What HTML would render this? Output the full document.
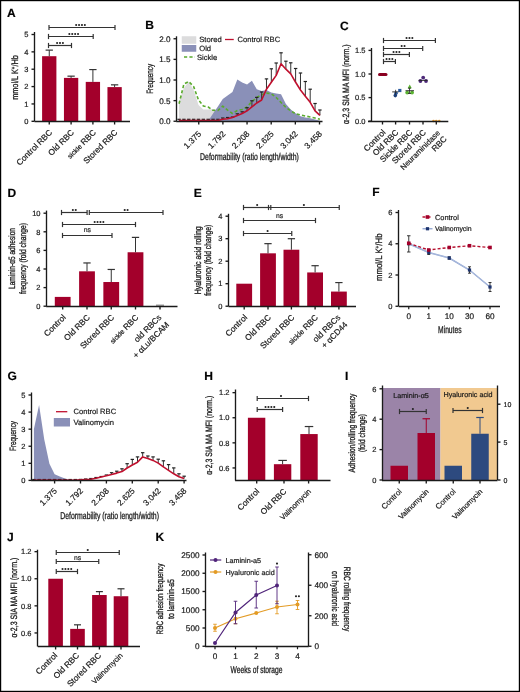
<!DOCTYPE html>
<html><head><meta charset="utf-8"><style>
html,body{margin:0;padding:0;background:#fff;}
svg{display:block;filter:grayscale(0);}
text{font-family:"Liberation Sans", sans-serif;text-rendering:geometricPrecision;stroke:#1a1a1a;stroke-width:0.2px;}
.cd{stroke:#1a1a1a;stroke-width:0.3px;}

</style></head><body>
<svg width="520" height="692" viewBox="0 0 520 692">
<rect x="0" y="0" width="520" height="692" fill="#fff"/>
<text transform="translate(7.00,16.50)" font-size="12" text-anchor="start" font-weight="bold" fill="#000" stroke="#000" stroke-width="0.9">A</text>
<line x1="34.50" y1="32.00" x2="34.50" y2="121.30" stroke="#1a1a1a" stroke-width="1.35" />
<line x1="31.50" y1="121.30" x2="34.50" y2="121.30" stroke="#1a1a1a" stroke-width="1.35" />
<text transform="translate(28.50,124.00)" font-size="7.5" text-anchor="end" font-weight="normal" fill="#1a1a1a" >0</text>
<line x1="31.50" y1="103.94" x2="34.50" y2="103.94" stroke="#1a1a1a" stroke-width="1.35" />
<text transform="translate(28.50,106.64)" font-size="7.5" text-anchor="end" font-weight="normal" fill="#1a1a1a" >1</text>
<line x1="31.50" y1="86.58" x2="34.50" y2="86.58" stroke="#1a1a1a" stroke-width="1.35" />
<text transform="translate(28.50,89.28)" font-size="7.5" text-anchor="end" font-weight="normal" fill="#1a1a1a" >2</text>
<line x1="31.50" y1="69.22" x2="34.50" y2="69.22" stroke="#1a1a1a" stroke-width="1.35" />
<text transform="translate(28.50,71.92)" font-size="7.5" text-anchor="end" font-weight="normal" fill="#1a1a1a" >3</text>
<line x1="31.50" y1="51.86" x2="34.50" y2="51.86" stroke="#1a1a1a" stroke-width="1.35" />
<text transform="translate(28.50,54.56)" font-size="7.5" text-anchor="end" font-weight="normal" fill="#1a1a1a" >4</text>
<line x1="31.50" y1="34.50" x2="34.50" y2="34.50" stroke="#1a1a1a" stroke-width="1.35" />
<text transform="translate(28.50,37.20)" font-size="7.5" text-anchor="end" font-weight="normal" fill="#1a1a1a" >5</text>
<rect x="42.10" y="56.20" width="14.30" height="65.10" fill="#a3002b"/>
<line x1="49.25" y1="56.20" x2="49.25" y2="50.12" stroke="#333" stroke-width="1.0" />
<line x1="45.60" y1="50.12" x2="52.90" y2="50.12" stroke="#333" stroke-width="1.2" />
<rect x="63.95" y="77.90" width="14.30" height="43.40" fill="#a3002b"/>
<line x1="71.10" y1="77.90" x2="71.10" y2="76.16" stroke="#333" stroke-width="1.0" />
<line x1="67.45" y1="76.16" x2="74.75" y2="76.16" stroke="#333" stroke-width="1.2" />
<rect x="85.75" y="81.89" width="14.30" height="39.41" fill="#a3002b"/>
<line x1="92.90" y1="81.89" x2="92.90" y2="69.57" stroke="#333" stroke-width="1.0" />
<line x1="89.25" y1="69.57" x2="96.55" y2="69.57" stroke="#333" stroke-width="1.2" />
<rect x="107.45" y="87.10" width="14.30" height="34.20" fill="#a3002b"/>
<line x1="114.60" y1="87.10" x2="114.60" y2="84.84" stroke="#333" stroke-width="1.0" />
<line x1="110.95" y1="84.84" x2="118.25" y2="84.84" stroke="#333" stroke-width="1.2" />
<line x1="34.50" y1="121.50" x2="130.00" y2="121.50" stroke="#1a1a1a" stroke-width="1.35" />
<line x1="49.25" y1="121.50" x2="49.25" y2="124.50" stroke="#1a1a1a" stroke-width="1.35" />
<line x1="71.10" y1="121.50" x2="71.10" y2="124.50" stroke="#1a1a1a" stroke-width="1.35" />
<line x1="92.90" y1="121.50" x2="92.90" y2="124.50" stroke="#1a1a1a" stroke-width="1.35" />
<line x1="114.60" y1="121.50" x2="114.60" y2="124.50" stroke="#1a1a1a" stroke-width="1.35" />
<line x1="48.50" y1="45.50" x2="71.50" y2="45.50" stroke="#333" stroke-width="1.2" />
<line x1="48.50" y1="42.90" x2="48.50" y2="48.10" stroke="#333" stroke-width="1.2" />
<line x1="71.50" y1="42.90" x2="71.50" y2="48.10" stroke="#333" stroke-width="1.2" />
<circle cx="57.10" cy="43.00" r="1.05" fill="#222"/>
<circle cx="60.00" cy="43.00" r="1.05" fill="#222"/>
<circle cx="62.90" cy="43.00" r="1.05" fill="#222"/>
<line x1="48.50" y1="36.50" x2="93.20" y2="36.50" stroke="#333" stroke-width="1.2" />
<line x1="48.50" y1="33.90" x2="48.50" y2="39.10" stroke="#333" stroke-width="1.2" />
<line x1="93.20" y1="33.90" x2="93.20" y2="39.10" stroke="#333" stroke-width="1.2" />
<circle cx="69.35" cy="34.00" r="1.05" fill="#222"/>
<circle cx="72.25" cy="34.00" r="1.05" fill="#222"/>
<circle cx="75.15" cy="34.00" r="1.05" fill="#222"/>
<circle cx="78.05" cy="34.00" r="1.05" fill="#222"/>
<line x1="49.00" y1="27.50" x2="115.00" y2="27.50" stroke="#333" stroke-width="1.2" />
<line x1="49.00" y1="24.90" x2="49.00" y2="30.10" stroke="#333" stroke-width="1.2" />
<line x1="115.00" y1="24.90" x2="115.00" y2="30.10" stroke="#333" stroke-width="1.2" />
<circle cx="76.15" cy="25.00" r="1.05" fill="#222"/>
<circle cx="79.05" cy="25.00" r="1.05" fill="#222"/>
<circle cx="81.95" cy="25.00" r="1.05" fill="#222"/>
<circle cx="84.85" cy="25.00" r="1.05" fill="#222"/>
<text transform="translate(18.10,77.50) rotate(-90) scale(0.7989682141664367,1)" font-size="9.2" text-anchor="middle" font-weight="normal" fill="#1a1a1a" class="cd" >mmol/L K<tspan font-size="5.5" dy="-3">+</tspan><tspan dy="3">/Hb</tspan></text>
<text transform="translate(52.75,133.00) rotate(-45)" font-size="8.3" text-anchor="end" font-weight="normal" fill="#1a1a1a" >Control RBC</text>
<text transform="translate(74.60,133.00) rotate(-45)" font-size="8.3" text-anchor="end" font-weight="normal" fill="#1a1a1a" >Old RBC</text>
<text transform="translate(96.40,133.00) rotate(-45)" font-size="8.3" text-anchor="end" font-weight="normal" fill="#1a1a1a" ><tspan font-size="6.8">sickle</tspan> RBC</text>
<text transform="translate(118.10,133.00) rotate(-45)" font-size="8.3" text-anchor="end" font-weight="normal" fill="#1a1a1a" >Stored RBC</text>
<text transform="translate(145.20,28.50)" font-size="12" text-anchor="start" font-weight="bold" fill="#000" stroke="#000" stroke-width="0.9">B</text>
<path d="M179.05,121.25 L179.05,101.50 L183.91,88.00 L188.76,81.50 L193.62,90.00 L198.48,105.00 L203.34,109.50 L208.19,109.50 L213.05,109.00 L217.91,111.00 L222.76,114.00 L227.62,117.00 L232.48,119.00 L237.33,121.00 L242.19,121.00 L247.05,121.00 L251.91,121.00 L256.76,121.00 L261.62,121.00 L266.48,121.00 L271.33,121.00 L276.19,121.00 L281.05,121.00 L285.90,121.00 L290.76,121.00 L295.62,121.00 L300.48,121.00 L305.33,121.00 L310.19,121.00 L315.05,121.00 L319.90,121.00 L319.90,121.25 Z" fill="#dcdcdd" stroke="none" stroke-width="1" />
<path d="M179.05,121.25 L179.05,121.25 L183.91,121.25 L188.76,121.25 L193.62,121.25 L198.48,121.25 L203.34,121.25 L208.19,121.00 L213.05,113.50 L217.91,106.50 L222.76,99.00 L227.62,95.50 L232.48,92.00 L237.33,79.50 L242.19,82.50 L247.05,84.50 L251.91,80.80 L256.76,89.20 L261.62,91.00 L266.48,90.00 L271.33,92.50 L276.19,93.50 L281.05,94.30 L285.90,104.00 L290.76,109.50 L295.62,113.20 L300.48,116.30 L305.33,117.50 L310.19,118.30 L315.05,119.50 L319.90,120.80 L319.90,121.25 Z" fill="#8a90b8" stroke="none" stroke-width="1" />
<path d="M179.05,103.80 L183.91,84.00 L188.76,81.50 L193.62,86.50 L198.48,100.00 L203.34,106.00 L208.19,107.00 L213.05,110.30 L217.91,110.50 L222.76,106.20 L227.62,110.20 L232.48,113.50 L237.33,110.50 L242.19,109.50 L247.05,107.00 L251.91,101.50 L256.76,97.50 L261.62,94.70 L266.48,93.10 L271.33,93.80 L276.19,97.50 L281.05,102.50 L285.90,107.50 L290.76,110.80 L295.62,113.80 L300.48,115.00 L305.33,116.00 L310.19,117.00 L315.05,118.00 L319.90,119.20" fill="none" stroke="#5aaa2e" stroke-width="1.6" stroke-dasharray="3.2,2.2" stroke-linejoin="round"/>
<line x1="179.05" y1="120.50" x2="179.05" y2="119.30" stroke="#333" stroke-width="1.0" />
<line x1="177.35" y1="119.30" x2="180.75" y2="119.30" stroke="#222" stroke-width="1.2" />
<line x1="183.91" y1="120.50" x2="183.91" y2="119.30" stroke="#333" stroke-width="1.0" />
<line x1="182.21" y1="119.30" x2="185.61" y2="119.30" stroke="#222" stroke-width="1.2" />
<line x1="188.76" y1="120.50" x2="188.76" y2="119.30" stroke="#333" stroke-width="1.0" />
<line x1="187.06" y1="119.30" x2="190.46" y2="119.30" stroke="#222" stroke-width="1.2" />
<line x1="193.62" y1="120.50" x2="193.62" y2="119.30" stroke="#333" stroke-width="1.0" />
<line x1="191.92" y1="119.30" x2="195.32" y2="119.30" stroke="#222" stroke-width="1.2" />
<line x1="198.48" y1="120.50" x2="198.48" y2="119.30" stroke="#333" stroke-width="1.0" />
<line x1="196.78" y1="119.30" x2="200.18" y2="119.30" stroke="#222" stroke-width="1.2" />
<line x1="203.34" y1="120.50" x2="203.34" y2="119.30" stroke="#333" stroke-width="1.0" />
<line x1="201.64" y1="119.30" x2="205.03" y2="119.30" stroke="#222" stroke-width="1.2" />
<line x1="208.19" y1="120.50" x2="208.19" y2="119.30" stroke="#333" stroke-width="1.0" />
<line x1="206.49" y1="119.30" x2="209.89" y2="119.30" stroke="#222" stroke-width="1.2" />
<line x1="213.05" y1="120.50" x2="213.05" y2="119.30" stroke="#333" stroke-width="1.0" />
<line x1="211.35" y1="119.30" x2="214.75" y2="119.30" stroke="#222" stroke-width="1.2" />
<line x1="217.91" y1="120.50" x2="217.91" y2="119.30" stroke="#333" stroke-width="1.0" />
<line x1="216.21" y1="119.30" x2="219.61" y2="119.30" stroke="#222" stroke-width="1.2" />
<line x1="222.76" y1="119.20" x2="222.76" y2="118.00" stroke="#333" stroke-width="1.0" />
<line x1="221.06" y1="118.00" x2="224.46" y2="118.00" stroke="#222" stroke-width="1.2" />
<line x1="227.62" y1="118.80" x2="227.62" y2="117.50" stroke="#333" stroke-width="1.0" />
<line x1="225.92" y1="117.50" x2="229.32" y2="117.50" stroke="#222" stroke-width="1.2" />
<line x1="232.48" y1="117.50" x2="232.48" y2="117.00" stroke="#333" stroke-width="1.0" />
<line x1="230.78" y1="117.00" x2="234.18" y2="117.00" stroke="#222" stroke-width="1.2" />
<line x1="237.33" y1="115.50" x2="237.33" y2="113.80" stroke="#333" stroke-width="1.0" />
<line x1="235.63" y1="113.80" x2="239.03" y2="113.80" stroke="#222" stroke-width="1.2" />
<line x1="242.19" y1="113.50" x2="242.19" y2="111.80" stroke="#333" stroke-width="1.0" />
<line x1="240.49" y1="111.80" x2="243.89" y2="111.80" stroke="#222" stroke-width="1.2" />
<line x1="247.05" y1="110.80" x2="247.05" y2="107.70" stroke="#333" stroke-width="1.0" />
<line x1="245.35" y1="107.70" x2="248.75" y2="107.70" stroke="#222" stroke-width="1.2" />
<line x1="251.91" y1="106.90" x2="251.91" y2="100.80" stroke="#333" stroke-width="1.0" />
<line x1="250.21" y1="100.80" x2="253.61" y2="100.80" stroke="#222" stroke-width="1.2" />
<line x1="256.76" y1="103.00" x2="256.76" y2="97.40" stroke="#333" stroke-width="1.0" />
<line x1="255.06" y1="97.40" x2="258.46" y2="97.40" stroke="#222" stroke-width="1.2" />
<line x1="261.62" y1="100.00" x2="261.62" y2="92.00" stroke="#333" stroke-width="1.0" />
<line x1="259.92" y1="92.00" x2="263.32" y2="92.00" stroke="#222" stroke-width="1.2" />
<line x1="266.48" y1="89.20" x2="266.48" y2="78.90" stroke="#333" stroke-width="1.0" />
<line x1="264.78" y1="78.90" x2="268.18" y2="78.90" stroke="#222" stroke-width="1.2" />
<line x1="271.33" y1="82.30" x2="271.33" y2="68.80" stroke="#333" stroke-width="1.0" />
<line x1="269.63" y1="68.80" x2="273.03" y2="68.80" stroke="#222" stroke-width="1.2" />
<line x1="276.19" y1="75.40" x2="276.19" y2="63.00" stroke="#333" stroke-width="1.0" />
<line x1="274.49" y1="63.00" x2="277.89" y2="63.00" stroke="#222" stroke-width="1.2" />
<line x1="281.05" y1="63.80" x2="281.05" y2="52.80" stroke="#333" stroke-width="1.0" />
<line x1="279.35" y1="52.80" x2="282.75" y2="52.80" stroke="#222" stroke-width="1.2" />
<line x1="285.90" y1="69.20" x2="285.90" y2="61.20" stroke="#333" stroke-width="1.0" />
<line x1="284.20" y1="61.20" x2="287.60" y2="61.20" stroke="#222" stroke-width="1.2" />
<line x1="290.76" y1="73.80" x2="290.76" y2="62.80" stroke="#333" stroke-width="1.0" />
<line x1="289.06" y1="62.80" x2="292.46" y2="62.80" stroke="#222" stroke-width="1.2" />
<line x1="295.62" y1="82.30" x2="295.62" y2="68.50" stroke="#333" stroke-width="1.0" />
<line x1="293.92" y1="68.50" x2="297.32" y2="68.50" stroke="#222" stroke-width="1.2" />
<line x1="300.48" y1="90.00" x2="300.48" y2="73.00" stroke="#333" stroke-width="1.0" />
<line x1="298.78" y1="73.00" x2="302.18" y2="73.00" stroke="#222" stroke-width="1.2" />
<line x1="305.33" y1="96.20" x2="305.33" y2="81.50" stroke="#333" stroke-width="1.0" />
<line x1="303.63" y1="81.50" x2="307.03" y2="81.50" stroke="#222" stroke-width="1.2" />
<line x1="310.19" y1="102.30" x2="310.19" y2="89.20" stroke="#333" stroke-width="1.0" />
<line x1="308.49" y1="89.20" x2="311.89" y2="89.20" stroke="#222" stroke-width="1.2" />
<line x1="315.05" y1="110.80" x2="315.05" y2="103.50" stroke="#333" stroke-width="1.0" />
<line x1="313.35" y1="103.50" x2="316.75" y2="103.50" stroke="#222" stroke-width="1.2" />
<line x1="319.90" y1="115.40" x2="319.90" y2="110.00" stroke="#333" stroke-width="1.0" />
<line x1="318.20" y1="110.00" x2="321.60" y2="110.00" stroke="#222" stroke-width="1.2" />
<path d="M179.05,120.50 L183.91,120.50 L188.76,120.50 L193.62,120.50 L198.48,120.50 L203.34,120.50 L208.19,120.50 L213.05,120.50 L217.91,120.50 L222.76,119.20 L227.62,118.80 L232.48,117.50 L237.33,115.50 L242.19,113.50 L247.05,110.80 L251.91,106.90 L256.76,103.00 L261.62,100.00 L266.48,89.20 L271.33,82.30 L276.19,75.40 L281.05,63.80 L285.90,69.20 L290.76,73.80 L295.62,82.30 L300.48,90.00 L305.33,96.20 L310.19,102.30 L315.05,110.80 L319.90,115.40" fill="none" stroke="#c0102e" stroke-width="1.6" stroke-linejoin="round"/>
<line x1="176.50" y1="36.30" x2="176.50" y2="121.25" stroke="#1a1a1a" stroke-width="1.35" />
<line x1="173.50" y1="121.25" x2="176.50" y2="121.25" stroke="#1a1a1a" stroke-width="1.35" />
<text transform="translate(170.50,124.17)" font-size="8.1" text-anchor="end" font-weight="normal" fill="#1a1a1a" >0.0</text>
<line x1="173.50" y1="100.62" x2="176.50" y2="100.62" stroke="#1a1a1a" stroke-width="1.35" />
<text transform="translate(170.50,103.54)" font-size="8.1" text-anchor="end" font-weight="normal" fill="#1a1a1a" >0.5</text>
<line x1="173.50" y1="80.00" x2="176.50" y2="80.00" stroke="#1a1a1a" stroke-width="1.35" />
<text transform="translate(170.50,82.92)" font-size="8.1" text-anchor="end" font-weight="normal" fill="#1a1a1a" >1.0</text>
<line x1="173.50" y1="59.38" x2="176.50" y2="59.38" stroke="#1a1a1a" stroke-width="1.35" />
<text transform="translate(170.50,62.29)" font-size="8.1" text-anchor="end" font-weight="normal" fill="#1a1a1a" >1.5</text>
<line x1="173.50" y1="38.75" x2="176.50" y2="38.75" stroke="#1a1a1a" stroke-width="1.35" />
<text transform="translate(170.50,41.67)" font-size="8.1" text-anchor="end" font-weight="normal" fill="#1a1a1a" >2.0</text>
<line x1="176.25" y1="121.50" x2="322.50" y2="121.50" stroke="#1a1a1a" stroke-width="1.35" />
<line x1="198.75" y1="121.50" x2="198.75" y2="124.50" stroke="#1a1a1a" stroke-width="1.35" />
<line x1="222.90" y1="121.50" x2="222.90" y2="124.50" stroke="#1a1a1a" stroke-width="1.35" />
<line x1="247.05" y1="121.50" x2="247.05" y2="124.50" stroke="#1a1a1a" stroke-width="1.35" />
<line x1="271.20" y1="121.50" x2="271.20" y2="124.50" stroke="#1a1a1a" stroke-width="1.35" />
<line x1="295.35" y1="121.50" x2="295.35" y2="124.50" stroke="#1a1a1a" stroke-width="1.35" />
<line x1="319.50" y1="121.50" x2="319.50" y2="124.50" stroke="#1a1a1a" stroke-width="1.35" />
<text transform="translate(201.75,134.50) rotate(-45)" font-size="8.3" text-anchor="end" font-weight="normal" fill="#1a1a1a" >1.375</text>
<text transform="translate(225.90,134.50) rotate(-45)" font-size="8.3" text-anchor="end" font-weight="normal" fill="#1a1a1a" >1.792</text>
<text transform="translate(250.05,134.50) rotate(-45)" font-size="8.3" text-anchor="end" font-weight="normal" fill="#1a1a1a" >2.208</text>
<text transform="translate(274.20,134.50) rotate(-45)" font-size="8.3" text-anchor="end" font-weight="normal" fill="#1a1a1a" >2.625</text>
<text transform="translate(298.35,134.50) rotate(-45)" font-size="8.3" text-anchor="end" font-weight="normal" fill="#1a1a1a" >3.042</text>
<text transform="translate(322.50,134.50) rotate(-45)" font-size="8.3" text-anchor="end" font-weight="normal" fill="#1a1a1a" >3.458</text>
<text transform="translate(249.50,160.00) scale(0.6974488628314244,1)" font-size="9.9" text-anchor="middle" font-weight="normal" fill="#1a1a1a" class="cd" >Deformability (ratio length/width)</text>
<text transform="translate(153.00,78.80) rotate(-90) scale(0.6902452527663736,1)" font-size="9.2" text-anchor="middle" font-weight="normal" fill="#1a1a1a" class="cd" >Frequency</text>
<rect x="181.75" y="36.25" width="14.50" height="7.50" fill="#dcdcdd"/>
<rect x="181.75" y="45.00" width="14.50" height="6.75" fill="#8a90b8"/>
<line x1="184.00" y1="57.00" x2="195.00" y2="57.00" stroke="#5aaa2e" stroke-width="1.6" stroke-dasharray="3.2,2.2"/>
<line x1="225.00" y1="39.50" x2="233.75" y2="39.50" stroke="#c0102e" stroke-width="1.3" />
<text transform="translate(199.25,42.20)" font-size="7.6" text-anchor="start" font-weight="normal" fill="#1a1a1a" >Stored</text>
<text transform="translate(199.25,50.80)" font-size="7.6" text-anchor="start" font-weight="normal" fill="#1a1a1a" >Old</text>
<text transform="translate(197.00,59.80)" font-size="7.6" text-anchor="start" font-weight="normal" fill="#1a1a1a" >Sickle</text>
<text transform="translate(237.50,42.20)" font-size="7.6" text-anchor="start" font-weight="normal" fill="#1a1a1a" >Control RBC</text>
<text transform="translate(340.00,29.50)" font-size="12" text-anchor="start" font-weight="bold" fill="#000" stroke="#000" stroke-width="0.9">C</text>
<line x1="371.50" y1="48.00" x2="371.50" y2="121.20" stroke="#1a1a1a" stroke-width="1.35" />
<line x1="368.50" y1="121.20" x2="371.50" y2="121.20" stroke="#1a1a1a" stroke-width="1.35" />
<text transform="translate(365.50,123.90)" font-size="7.5" text-anchor="end" font-weight="normal" fill="#1a1a1a" >0.0</text>
<line x1="368.50" y1="97.60" x2="371.50" y2="97.60" stroke="#1a1a1a" stroke-width="1.35" />
<text transform="translate(365.50,100.30)" font-size="7.5" text-anchor="end" font-weight="normal" fill="#1a1a1a" >0.5</text>
<line x1="368.50" y1="74.00" x2="371.50" y2="74.00" stroke="#1a1a1a" stroke-width="1.35" />
<text transform="translate(365.50,76.70)" font-size="7.5" text-anchor="end" font-weight="normal" fill="#1a1a1a" >1.0</text>
<line x1="368.50" y1="50.40" x2="371.50" y2="50.40" stroke="#1a1a1a" stroke-width="1.35" />
<text transform="translate(365.50,53.10)" font-size="7.5" text-anchor="end" font-weight="normal" fill="#1a1a1a" >1.5</text>
<path d="M379.5,74.5 L386,74.5" fill="none" stroke="#8a0020" stroke-width="3" stroke-linecap="round"/>
<rect x="398.20" y="88.90" width="3.20" height="3.20" fill="#2b5ba0"/>
<circle cx="396" cy="93.3" r="1.8" fill="#2b5ba0"/>
<circle cx="395.3" cy="95.6" r="1.8" fill="#1c3f7a"/>
<line x1="392.20" y1="91.90" x2="398.50" y2="91.90" stroke="#222" stroke-width="0.9" />
<line x1="395.60" y1="89.80" x2="395.60" y2="94.50" stroke="#222" stroke-width="0.8" />
<path d="M409.7,84.6 L411.8,88.2 L407.6,88.2 Z" fill="#5cb532" stroke="none" stroke-width="1" />
<circle cx="407.2" cy="92.6" r="1.9" fill="#5cb532"/>
<circle cx="412.1" cy="92.6" r="1.9" fill="#5cb532"/>
<line x1="405.50" y1="90.70" x2="414.00" y2="90.70" stroke="#222" stroke-width="0.9" />
<line x1="409.50" y1="88.20" x2="409.50" y2="93.50" stroke="#222" stroke-width="0.8" />
<line x1="408.00" y1="88.20" x2="411.00" y2="88.20" stroke="#222" stroke-width="0.8" />
<line x1="408.00" y1="93.50" x2="411.00" y2="93.50" stroke="#222" stroke-width="0.8" />
<circle cx="423.2" cy="77.6" r="1.9" fill="#4e2a7a"/>
<circle cx="420.4" cy="81" r="1.9" fill="#4e2a7a"/>
<circle cx="426" cy="81" r="1.9" fill="#4e2a7a"/>
<line x1="418.50" y1="80.40" x2="427.50" y2="80.40" stroke="#222" stroke-width="0.9" />
<circle cx="433.5" cy="121" r="1.3" fill="#f0a030"/>
<circle cx="436.3" cy="121" r="1.3" fill="#f0a030"/>
<circle cx="439.3" cy="121" r="1.3" fill="#f0a030"/>
<line x1="368.00" y1="121.50" x2="448.30" y2="121.50" stroke="#1a1a1a" stroke-width="1.35" />
<line x1="382.50" y1="121.50" x2="382.50" y2="124.50" stroke="#1a1a1a" stroke-width="1.35" />
<line x1="395.60" y1="121.50" x2="395.60" y2="124.50" stroke="#1a1a1a" stroke-width="1.35" />
<line x1="409.50" y1="121.50" x2="409.50" y2="124.50" stroke="#1a1a1a" stroke-width="1.35" />
<line x1="423.00" y1="121.50" x2="423.00" y2="124.50" stroke="#1a1a1a" stroke-width="1.35" />
<line x1="436.30" y1="121.50" x2="436.30" y2="124.50" stroke="#1a1a1a" stroke-width="1.35" />
<line x1="383.50" y1="61.50" x2="395.40" y2="61.50" stroke="#333" stroke-width="1.2" />
<line x1="383.50" y1="58.90" x2="383.50" y2="64.10" stroke="#333" stroke-width="1.2" />
<line x1="395.40" y1="58.90" x2="395.40" y2="64.10" stroke="#333" stroke-width="1.2" />
<circle cx="386.55" cy="59.00" r="1.05" fill="#222"/>
<circle cx="389.45" cy="59.00" r="1.05" fill="#222"/>
<circle cx="392.35" cy="59.00" r="1.05" fill="#222"/>
<line x1="383.50" y1="54.50" x2="409.40" y2="54.50" stroke="#333" stroke-width="1.2" />
<line x1="383.50" y1="51.90" x2="383.50" y2="57.10" stroke="#333" stroke-width="1.2" />
<line x1="409.40" y1="51.90" x2="409.40" y2="57.10" stroke="#333" stroke-width="1.2" />
<circle cx="393.55" cy="52.00" r="1.05" fill="#222"/>
<circle cx="396.45" cy="52.00" r="1.05" fill="#222"/>
<circle cx="399.35" cy="52.00" r="1.05" fill="#222"/>
<line x1="383.50" y1="48.50" x2="422.70" y2="48.50" stroke="#333" stroke-width="1.2" />
<line x1="383.50" y1="45.90" x2="383.50" y2="51.10" stroke="#333" stroke-width="1.2" />
<line x1="422.70" y1="45.90" x2="422.70" y2="51.10" stroke="#333" stroke-width="1.2" />
<circle cx="401.65" cy="46.00" r="1.05" fill="#222"/>
<circle cx="404.55" cy="46.00" r="1.05" fill="#222"/>
<line x1="383.50" y1="40.50" x2="435.40" y2="40.50" stroke="#333" stroke-width="1.2" />
<line x1="383.50" y1="37.90" x2="383.50" y2="43.10" stroke="#333" stroke-width="1.2" />
<line x1="435.40" y1="37.90" x2="435.40" y2="43.10" stroke="#333" stroke-width="1.2" />
<circle cx="406.55" cy="38.00" r="1.05" fill="#222"/>
<circle cx="409.45" cy="38.00" r="1.05" fill="#222"/>
<circle cx="412.35" cy="38.00" r="1.05" fill="#222"/>
<text transform="translate(349.00,84.20) rotate(-90) scale(0.7608561066777686,1)" font-size="9.2" text-anchor="middle" font-weight="normal" fill="#1a1a1a" class="cd" >α-2,3 SIA MA MFI (norm.)</text>
<text transform="translate(386.00,133.00) rotate(-45)" font-size="8.3" text-anchor="end" font-weight="normal" fill="#1a1a1a" >Control</text>
<text transform="translate(399.10,133.00) rotate(-45)" font-size="8.3" text-anchor="end" font-weight="normal" fill="#1a1a1a" >Old RBC</text>
<text transform="translate(413.00,133.00) rotate(-45)" font-size="8.3" text-anchor="end" font-weight="normal" fill="#1a1a1a" >Sickle RBC</text>
<text transform="translate(426.50,133.00) rotate(-45)" font-size="8.3" text-anchor="end" font-weight="normal" fill="#1a1a1a" >Stored RBC</text>
<text transform="translate(440.60,133.50) rotate(-45)" font-size="7.8" text-anchor="end" font-weight="normal" fill="#1a1a1a" >Neuraminidase</text>
<text transform="translate(447.30,139.50) rotate(-45)" font-size="8.3" text-anchor="end" font-weight="normal" fill="#1a1a1a" >RBC</text>
<text transform="translate(7.50,196.80)" font-size="12" text-anchor="start" font-weight="bold" fill="#000" stroke="#000" stroke-width="0.9">D</text>
<line x1="46.50" y1="210.60" x2="46.50" y2="306.20" stroke="#1a1a1a" stroke-width="1.35" />
<line x1="43.50" y1="306.20" x2="46.50" y2="306.20" stroke="#1a1a1a" stroke-width="1.35" />
<text transform="translate(40.50,308.90)" font-size="7.5" text-anchor="end" font-weight="normal" fill="#1a1a1a" >0</text>
<line x1="43.50" y1="287.60" x2="46.50" y2="287.60" stroke="#1a1a1a" stroke-width="1.35" />
<text transform="translate(40.50,290.30)" font-size="7.5" text-anchor="end" font-weight="normal" fill="#1a1a1a" >2</text>
<line x1="43.50" y1="269.00" x2="46.50" y2="269.00" stroke="#1a1a1a" stroke-width="1.35" />
<text transform="translate(40.50,271.70)" font-size="7.5" text-anchor="end" font-weight="normal" fill="#1a1a1a" >4</text>
<line x1="43.50" y1="250.40" x2="46.50" y2="250.40" stroke="#1a1a1a" stroke-width="1.35" />
<text transform="translate(40.50,253.10)" font-size="7.5" text-anchor="end" font-weight="normal" fill="#1a1a1a" >6</text>
<line x1="43.50" y1="231.80" x2="46.50" y2="231.80" stroke="#1a1a1a" stroke-width="1.35" />
<text transform="translate(40.50,234.50)" font-size="7.5" text-anchor="end" font-weight="normal" fill="#1a1a1a" >8</text>
<line x1="43.50" y1="213.20" x2="46.50" y2="213.20" stroke="#1a1a1a" stroke-width="1.35" />
<text transform="translate(40.50,215.90)" font-size="7.5" text-anchor="end" font-weight="normal" fill="#1a1a1a" >10</text>
<rect x="54.80" y="296.90" width="15.80" height="9.30" fill="#a3002b"/>
<rect x="79.10" y="271.32" width="15.80" height="34.88" fill="#a3002b"/>
<line x1="87.00" y1="271.32" x2="87.00" y2="262.95" stroke="#333" stroke-width="1.0" />
<line x1="83.35" y1="262.95" x2="90.65" y2="262.95" stroke="#333" stroke-width="1.2" />
<rect x="103.35" y="282.02" width="15.80" height="24.18" fill="#a3002b"/>
<line x1="111.25" y1="282.02" x2="111.25" y2="269.46" stroke="#333" stroke-width="1.0" />
<line x1="107.60" y1="269.46" x2="114.90" y2="269.46" stroke="#333" stroke-width="1.2" />
<rect x="127.60" y="252.26" width="15.80" height="53.94" fill="#a3002b"/>
<line x1="135.50" y1="252.26" x2="135.50" y2="237.38" stroke="#333" stroke-width="1.0" />
<line x1="131.85" y1="237.38" x2="139.15" y2="237.38" stroke="#333" stroke-width="1.2" />
<line x1="46.20" y1="306.50" x2="177.50" y2="306.50" stroke="#1a1a1a" stroke-width="1.35" />
<line x1="62.70" y1="306.50" x2="62.70" y2="309.50" stroke="#1a1a1a" stroke-width="1.35" />
<line x1="87.00" y1="306.50" x2="87.00" y2="309.50" stroke="#1a1a1a" stroke-width="1.35" />
<line x1="111.25" y1="306.50" x2="111.25" y2="309.50" stroke="#1a1a1a" stroke-width="1.35" />
<line x1="135.50" y1="306.50" x2="135.50" y2="309.50" stroke="#1a1a1a" stroke-width="1.35" />
<line x1="160.00" y1="306.50" x2="160.00" y2="309.50" stroke="#1a1a1a" stroke-width="1.35" />
<line x1="156.00" y1="305.20" x2="164.00" y2="305.20" stroke="#555" stroke-width="0.9" />
<line x1="61.50" y1="212.50" x2="87.10" y2="212.50" stroke="#333" stroke-width="1.2" />
<line x1="61.50" y1="209.90" x2="61.50" y2="215.10" stroke="#333" stroke-width="1.2" />
<line x1="87.10" y1="209.90" x2="87.10" y2="215.10" stroke="#333" stroke-width="1.2" />
<circle cx="72.85" cy="210.00" r="1.05" fill="#222"/>
<circle cx="75.75" cy="210.00" r="1.05" fill="#222"/>
<line x1="89.30" y1="212.50" x2="163.00" y2="212.50" stroke="#333" stroke-width="1.2" />
<line x1="89.30" y1="209.90" x2="89.30" y2="215.10" stroke="#333" stroke-width="1.2" />
<line x1="163.00" y1="209.90" x2="163.00" y2="215.10" stroke="#333" stroke-width="1.2" />
<circle cx="124.70" cy="210.00" r="1.05" fill="#222"/>
<circle cx="127.60" cy="210.00" r="1.05" fill="#222"/>
<line x1="62.50" y1="224.50" x2="135.50" y2="224.50" stroke="#333" stroke-width="1.2" />
<line x1="62.50" y1="221.90" x2="62.50" y2="227.10" stroke="#333" stroke-width="1.2" />
<line x1="135.50" y1="221.90" x2="135.50" y2="227.10" stroke="#333" stroke-width="1.2" />
<circle cx="94.65" cy="222.00" r="1.05" fill="#222"/>
<circle cx="97.55" cy="222.00" r="1.05" fill="#222"/>
<circle cx="100.45" cy="222.00" r="1.05" fill="#222"/>
<circle cx="103.35" cy="222.00" r="1.05" fill="#222"/>
<line x1="62.50" y1="235.50" x2="112.00" y2="235.50" stroke="#333" stroke-width="1.2" />
<line x1="62.50" y1="232.90" x2="62.50" y2="238.10" stroke="#333" stroke-width="1.2" />
<line x1="112.00" y1="232.90" x2="112.00" y2="238.10" stroke="#333" stroke-width="1.2" />
<text transform="translate(87.25,232.00)" font-size="6.8" text-anchor="middle" font-weight="normal" fill="#333" >ns</text>
<text transform="translate(15.20,258.50) rotate(-90) scale(0.7125309815917328,1)" font-size="9.2" text-anchor="middle" font-weight="normal" fill="#1a1a1a" class="cd" >Laminin-α5 adhesion</text>
<text transform="translate(25.70,258.50) rotate(-90) scale(0.7346070401996889,1)" font-size="9.2" text-anchor="middle" font-weight="normal" fill="#1a1a1a" class="cd" >frequency (fold change)</text>
<text transform="translate(66.20,318.00) rotate(-45)" font-size="8.3" text-anchor="end" font-weight="normal" fill="#1a1a1a" >Control</text>
<text transform="translate(90.50,318.00) rotate(-45)" font-size="8.3" text-anchor="end" font-weight="normal" fill="#1a1a1a" >Old RBC</text>
<text transform="translate(114.75,318.00) rotate(-45)" font-size="8.3" text-anchor="end" font-weight="normal" fill="#1a1a1a" >Stored RBC</text>
<text transform="translate(139.00,318.00) rotate(-45)" font-size="8.3" text-anchor="end" font-weight="normal" fill="#1a1a1a" ><tspan font-size="6.8">sickle</tspan> RBC</text>
<text transform="translate(162.00,318.00) rotate(-45)" font-size="8.3" text-anchor="end" font-weight="normal" fill="#1a1a1a" >old RBCs</text>
<text transform="translate(169.70,325.30) rotate(-45)" font-size="8.3" text-anchor="end" font-weight="normal" fill="#1a1a1a" >+ αLu/BCAM</text>
<text transform="translate(193.75,196.90)" font-size="12" text-anchor="start" font-weight="bold" fill="#000" stroke="#000" stroke-width="0.9">E</text>
<line x1="228.50" y1="213.80" x2="228.50" y2="306.20" stroke="#1a1a1a" stroke-width="1.35" />
<line x1="225.50" y1="306.20" x2="228.50" y2="306.20" stroke="#1a1a1a" stroke-width="1.35" />
<text transform="translate(222.50,308.90)" font-size="7.5" text-anchor="end" font-weight="normal" fill="#1a1a1a" >0</text>
<line x1="225.50" y1="283.70" x2="228.50" y2="283.70" stroke="#1a1a1a" stroke-width="1.35" />
<text transform="translate(222.50,286.40)" font-size="7.5" text-anchor="end" font-weight="normal" fill="#1a1a1a" >1</text>
<line x1="225.50" y1="261.20" x2="228.50" y2="261.20" stroke="#1a1a1a" stroke-width="1.35" />
<text transform="translate(222.50,263.90)" font-size="7.5" text-anchor="end" font-weight="normal" fill="#1a1a1a" >2</text>
<line x1="225.50" y1="238.70" x2="228.50" y2="238.70" stroke="#1a1a1a" stroke-width="1.35" />
<text transform="translate(222.50,241.40)" font-size="7.5" text-anchor="end" font-weight="normal" fill="#1a1a1a" >3</text>
<line x1="225.50" y1="216.20" x2="228.50" y2="216.20" stroke="#1a1a1a" stroke-width="1.35" />
<text transform="translate(222.50,218.90)" font-size="7.5" text-anchor="end" font-weight="normal" fill="#1a1a1a" >4</text>
<rect x="236.30" y="283.70" width="15.80" height="22.50" fill="#a3002b"/>
<rect x="260.10" y="253.32" width="15.80" height="52.88" fill="#a3002b"/>
<line x1="268.00" y1="253.32" x2="268.00" y2="243.65" stroke="#333" stroke-width="1.0" />
<line x1="264.35" y1="243.65" x2="271.65" y2="243.65" stroke="#333" stroke-width="1.2" />
<rect x="283.50" y="249.72" width="15.80" height="56.47" fill="#a3002b"/>
<line x1="291.40" y1="249.72" x2="291.40" y2="238.70" stroke="#333" stroke-width="1.0" />
<line x1="287.75" y1="238.70" x2="295.05" y2="238.70" stroke="#333" stroke-width="1.2" />
<rect x="307.20" y="272.45" width="15.80" height="33.75" fill="#a3002b"/>
<line x1="315.10" y1="272.45" x2="315.10" y2="265.70" stroke="#333" stroke-width="1.0" />
<line x1="311.45" y1="265.70" x2="318.75" y2="265.70" stroke="#333" stroke-width="1.2" />
<rect x="331.00" y="291.57" width="15.80" height="14.62" fill="#a3002b"/>
<line x1="338.90" y1="291.57" x2="338.90" y2="282.57" stroke="#333" stroke-width="1.0" />
<line x1="335.25" y1="282.57" x2="342.55" y2="282.57" stroke="#333" stroke-width="1.2" />
<line x1="228.50" y1="306.50" x2="356.00" y2="306.50" stroke="#1a1a1a" stroke-width="1.35" />
<line x1="244.20" y1="306.50" x2="244.20" y2="309.50" stroke="#1a1a1a" stroke-width="1.35" />
<line x1="268.00" y1="306.50" x2="268.00" y2="309.50" stroke="#1a1a1a" stroke-width="1.35" />
<line x1="291.40" y1="306.50" x2="291.40" y2="309.50" stroke="#1a1a1a" stroke-width="1.35" />
<line x1="315.10" y1="306.50" x2="315.10" y2="309.50" stroke="#1a1a1a" stroke-width="1.35" />
<line x1="338.90" y1="306.50" x2="338.90" y2="309.50" stroke="#1a1a1a" stroke-width="1.35" />
<line x1="243.50" y1="207.50" x2="270.80" y2="207.50" stroke="#333" stroke-width="1.2" />
<line x1="243.50" y1="204.90" x2="243.50" y2="210.10" stroke="#333" stroke-width="1.2" />
<line x1="270.80" y1="204.90" x2="270.80" y2="210.10" stroke="#333" stroke-width="1.2" />
<circle cx="257.15" cy="205.00" r="1.05" fill="#222"/>
<line x1="268.50" y1="207.50" x2="339.25" y2="207.50" stroke="#333" stroke-width="1.2" />
<line x1="268.50" y1="204.90" x2="268.50" y2="210.10" stroke="#333" stroke-width="1.2" />
<line x1="339.25" y1="204.90" x2="339.25" y2="210.10" stroke="#333" stroke-width="1.2" />
<circle cx="303.88" cy="205.00" r="1.05" fill="#222"/>
<line x1="243.50" y1="220.50" x2="315.50" y2="220.50" stroke="#333" stroke-width="1.2" />
<line x1="243.50" y1="217.90" x2="243.50" y2="223.10" stroke="#333" stroke-width="1.2" />
<line x1="315.50" y1="217.90" x2="315.50" y2="223.10" stroke="#333" stroke-width="1.2" />
<text transform="translate(279.50,217.80)" font-size="6.8" text-anchor="middle" font-weight="normal" fill="#333" >ns</text>
<line x1="243.50" y1="233.50" x2="291.75" y2="233.50" stroke="#333" stroke-width="1.2" />
<line x1="243.50" y1="230.90" x2="243.50" y2="236.10" stroke="#333" stroke-width="1.2" />
<line x1="291.75" y1="230.90" x2="291.75" y2="236.10" stroke="#333" stroke-width="1.2" />
<circle cx="267.62" cy="231.00" r="1.05" fill="#222"/>
<text transform="translate(200.70,260.30) rotate(-90) scale(0.7556242963769622,1)" font-size="9.2" text-anchor="middle" font-weight="normal" fill="#1a1a1a" class="cd" >Hyaluronic acid rolling</text>
<text transform="translate(211.20,260.30) rotate(-90) scale(0.7346070401996889,1)" font-size="9.2" text-anchor="middle" font-weight="normal" fill="#1a1a1a" class="cd" >frequency (fold change)</text>
<text transform="translate(247.70,318.00) rotate(-45)" font-size="8.3" text-anchor="end" font-weight="normal" fill="#1a1a1a" >Control</text>
<text transform="translate(271.50,318.00) rotate(-45)" font-size="8.3" text-anchor="end" font-weight="normal" fill="#1a1a1a" >Old RBC</text>
<text transform="translate(294.90,318.00) rotate(-45)" font-size="8.3" text-anchor="end" font-weight="normal" fill="#1a1a1a" >Stored RBC</text>
<text transform="translate(318.60,318.00) rotate(-45)" font-size="8.3" text-anchor="end" font-weight="normal" fill="#1a1a1a" ><tspan font-size="7.4">sickle</tspan> RBC</text>
<text transform="translate(340.90,318.00) rotate(-45)" font-size="8.3" text-anchor="end" font-weight="normal" fill="#1a1a1a" >old RBCs</text>
<text transform="translate(348.10,325.30) rotate(-45)" font-size="8.3" text-anchor="end" font-weight="normal" fill="#1a1a1a" >+ αCD44</text>
<text transform="translate(372.30,196.20)" font-size="12" text-anchor="start" font-weight="bold" fill="#000" stroke="#000" stroke-width="0.9">F</text>
<line x1="398.50" y1="210.00" x2="398.50" y2="306.25" stroke="#1a1a1a" stroke-width="1.35" />
<line x1="395.50" y1="306.25" x2="398.50" y2="306.25" stroke="#1a1a1a" stroke-width="1.35" />
<text transform="translate(392.50,308.95)" font-size="7.5" text-anchor="end" font-weight="normal" fill="#1a1a1a" >0</text>
<line x1="395.50" y1="275.00" x2="398.50" y2="275.00" stroke="#1a1a1a" stroke-width="1.35" />
<text transform="translate(392.50,277.70)" font-size="7.5" text-anchor="end" font-weight="normal" fill="#1a1a1a" >2</text>
<line x1="395.50" y1="243.75" x2="398.50" y2="243.75" stroke="#1a1a1a" stroke-width="1.35" />
<text transform="translate(392.50,246.45)" font-size="7.5" text-anchor="end" font-weight="normal" fill="#1a1a1a" >4</text>
<line x1="395.50" y1="212.50" x2="398.50" y2="212.50" stroke="#1a1a1a" stroke-width="1.35" />
<text transform="translate(392.50,215.20)" font-size="7.5" text-anchor="end" font-weight="normal" fill="#1a1a1a" >6</text>
<line x1="398.75" y1="306.50" x2="500.00" y2="306.50" stroke="#1a1a1a" stroke-width="1.35" />
<line x1="408.75" y1="306.25" x2="408.75" y2="309.25" stroke="#1a1a1a" stroke-width="1.2" />
<text transform="translate(408.75,319.40)" font-size="8.2" text-anchor="middle" font-weight="normal" fill="#1a1a1a" >0</text>
<line x1="428.75" y1="306.25" x2="428.75" y2="309.25" stroke="#1a1a1a" stroke-width="1.2" />
<text transform="translate(428.75,319.40)" font-size="8.2" text-anchor="middle" font-weight="normal" fill="#1a1a1a" >1</text>
<line x1="449.25" y1="306.25" x2="449.25" y2="309.25" stroke="#1a1a1a" stroke-width="1.2" />
<text transform="translate(449.25,319.40)" font-size="8.2" text-anchor="middle" font-weight="normal" fill="#1a1a1a" >10</text>
<line x1="469.50" y1="306.25" x2="469.50" y2="309.25" stroke="#1a1a1a" stroke-width="1.2" />
<text transform="translate(469.50,319.40)" font-size="8.2" text-anchor="middle" font-weight="normal" fill="#1a1a1a" >30</text>
<line x1="490.00" y1="306.25" x2="490.00" y2="309.25" stroke="#1a1a1a" stroke-width="1.2" />
<text transform="translate(490.00,319.40)" font-size="8.2" text-anchor="middle" font-weight="normal" fill="#1a1a1a" >60</text>
<text transform="translate(449.80,333.00) scale(0.6711888611210282,1)" font-size="10" text-anchor="middle" font-weight="normal" fill="#1a1a1a" class="cd" >Minutes</text>
<text transform="translate(382.40,257.30) rotate(-90) scale(0.8505145505642714,1)" font-size="9.2" text-anchor="middle" font-weight="normal" fill="#1a1a1a" class="cd" >mmol/L K<tspan font-size="5.5" dy="-3">+</tspan><tspan dy="3">/Hb</tspan></text>
<path d="M408.75,243.75 L428.75,252.50 L449.25,258.00 L469.50,270.00 L490.00,287.00" fill="none" stroke="#8ea3d0" stroke-width="1.5" />
<path d="M408.75,243.75 L428.75,252.50 L449.25,258.00 L469.50,270.00 L490.00,287.00" fill="none" stroke="#c5d1ea" stroke-width="0.5" />
<rect x="407.15" y="242.15" width="3.20" height="3.20" fill="#1d336e"/>
<line x1="428.75" y1="250.50" x2="428.75" y2="254.50" stroke="#222" stroke-width="0.9" />
<line x1="427.25" y1="250.50" x2="430.25" y2="250.50" stroke="#222" stroke-width="0.9" />
<line x1="427.25" y1="254.50" x2="430.25" y2="254.50" stroke="#222" stroke-width="0.9" />
<rect x="427.15" y="250.90" width="3.20" height="3.20" fill="#1d336e"/>
<line x1="449.25" y1="256.80" x2="449.25" y2="259.20" stroke="#222" stroke-width="0.9" />
<line x1="447.75" y1="256.80" x2="450.75" y2="256.80" stroke="#222" stroke-width="0.9" />
<line x1="447.75" y1="259.20" x2="450.75" y2="259.20" stroke="#222" stroke-width="0.9" />
<rect x="447.65" y="256.40" width="3.20" height="3.20" fill="#1d336e"/>
<line x1="469.50" y1="266.80" x2="469.50" y2="273.20" stroke="#222" stroke-width="0.9" />
<line x1="468.00" y1="266.80" x2="471.00" y2="266.80" stroke="#222" stroke-width="0.9" />
<line x1="468.00" y1="273.20" x2="471.00" y2="273.20" stroke="#222" stroke-width="0.9" />
<rect x="467.90" y="268.40" width="3.20" height="3.20" fill="#1d336e"/>
<line x1="490.00" y1="282.50" x2="490.00" y2="291.50" stroke="#222" stroke-width="0.9" />
<line x1="488.50" y1="282.50" x2="491.50" y2="282.50" stroke="#222" stroke-width="0.9" />
<line x1="488.50" y1="291.50" x2="491.50" y2="291.50" stroke="#222" stroke-width="0.9" />
<rect x="488.40" y="285.40" width="3.20" height="3.20" fill="#1d336e"/>
<path d="M408.75,243.25 L428.75,250.00 L449.25,247.50 L469.50,245.75 L490.00,247.50" fill="none" stroke="#b5102e" stroke-width="1.4" stroke-dasharray="3,2"/>
<line x1="408.75" y1="235.75" x2="408.75" y2="252.00" stroke="#222" stroke-width="0.9" />
<line x1="407.00" y1="235.75" x2="410.50" y2="235.75" stroke="#222" stroke-width="0.9" />
<line x1="407.00" y1="252.00" x2="410.50" y2="252.00" stroke="#222" stroke-width="0.9" />
<rect x="406.95" y="241.45" width="3.60" height="3.60" fill="#a3002b"/>
<rect x="426.95" y="248.20" width="3.60" height="3.60" fill="#a3002b"/>
<rect x="447.45" y="245.70" width="3.60" height="3.60" fill="#a3002b"/>
<rect x="467.70" y="243.95" width="3.60" height="3.60" fill="#a3002b"/>
<rect x="488.20" y="245.70" width="3.60" height="3.60" fill="#a3002b"/>
<line x1="422.50" y1="217.00" x2="432.50" y2="217.00" stroke="#b5102e" stroke-width="1.4" stroke-dasharray="3,2"/>
<rect x="425.70" y="215.20" width="3.60" height="3.60" fill="#a3002b"/>
<text transform="translate(435.00,219.60)" font-size="7.4" text-anchor="start" font-weight="normal" fill="#1a1a1a" >Control</text>
<line x1="422.50" y1="228.75" x2="432.50" y2="228.75" stroke="#8ea3d0" stroke-width="1.3" />
<rect x="425.90" y="227.15" width="3.20" height="3.20" fill="#1d336e"/>
<text transform="translate(435.00,231.40)" font-size="6.9" text-anchor="start" font-weight="normal" fill="#1a1a1a" >Valinomycin</text>
<text transform="translate(7.50,379.50)" font-size="12" text-anchor="start" font-weight="bold" fill="#000" stroke="#000" stroke-width="0.9">G</text>
<path d="M33.90,480.40 L33.90,429.00 L39.08,405.00 L44.26,439.60 L49.44,463.70 L54.62,474.20 L59.80,476.50 L64.98,478.50 L70.16,480.40 L75.34,480.40 L80.52,480.40 L85.70,480.40 L90.88,480.40 L96.06,480.40 L101.24,480.40 L106.42,480.40 L111.60,480.40 L116.78,480.40 L121.96,480.40 L127.14,480.40 L132.32,480.40 L137.50,480.40 L142.68,480.40 L147.86,480.40 L153.04,480.40 L158.22,480.40 L163.40,480.40 L168.58,480.40 L173.76,480.40 L178.94,480.40 L184.12,480.40 L184.12,480.40 Z" fill="#8a90b8" stroke="none" stroke-width="1" />
<line x1="33.90" y1="480.30" x2="33.90" y2="479.50" stroke="#333" stroke-width="1.0" />
<line x1="32.20" y1="479.50" x2="35.60" y2="479.50" stroke="#222" stroke-width="1.2" />
<line x1="39.08" y1="480.30" x2="39.08" y2="479.50" stroke="#333" stroke-width="1.0" />
<line x1="37.38" y1="479.50" x2="40.78" y2="479.50" stroke="#222" stroke-width="1.2" />
<line x1="44.26" y1="480.30" x2="44.26" y2="479.50" stroke="#333" stroke-width="1.0" />
<line x1="42.56" y1="479.50" x2="45.96" y2="479.50" stroke="#222" stroke-width="1.2" />
<line x1="49.44" y1="480.30" x2="49.44" y2="479.50" stroke="#333" stroke-width="1.0" />
<line x1="47.74" y1="479.50" x2="51.14" y2="479.50" stroke="#222" stroke-width="1.2" />
<line x1="54.62" y1="480.30" x2="54.62" y2="479.50" stroke="#333" stroke-width="1.0" />
<line x1="52.92" y1="479.50" x2="56.32" y2="479.50" stroke="#222" stroke-width="1.2" />
<line x1="59.80" y1="480.30" x2="59.80" y2="479.50" stroke="#333" stroke-width="1.0" />
<line x1="58.10" y1="479.50" x2="61.50" y2="479.50" stroke="#222" stroke-width="1.2" />
<line x1="64.98" y1="480.30" x2="64.98" y2="479.50" stroke="#333" stroke-width="1.0" />
<line x1="63.28" y1="479.50" x2="66.68" y2="479.50" stroke="#222" stroke-width="1.2" />
<line x1="70.16" y1="480.30" x2="70.16" y2="479.50" stroke="#333" stroke-width="1.0" />
<line x1="68.46" y1="479.50" x2="71.86" y2="479.50" stroke="#222" stroke-width="1.2" />
<line x1="75.34" y1="480.30" x2="75.34" y2="479.50" stroke="#333" stroke-width="1.0" />
<line x1="73.64" y1="479.50" x2="77.04" y2="479.50" stroke="#222" stroke-width="1.2" />
<line x1="80.52" y1="479.90" x2="80.52" y2="479.40" stroke="#333" stroke-width="1.0" />
<line x1="78.82" y1="479.40" x2="82.22" y2="479.40" stroke="#222" stroke-width="1.2" />
<line x1="85.70" y1="479.60" x2="85.70" y2="479.00" stroke="#333" stroke-width="1.0" />
<line x1="84.00" y1="479.00" x2="87.40" y2="479.00" stroke="#222" stroke-width="1.2" />
<line x1="90.88" y1="479.20" x2="90.88" y2="478.50" stroke="#333" stroke-width="1.0" />
<line x1="89.18" y1="478.50" x2="92.58" y2="478.50" stroke="#222" stroke-width="1.2" />
<line x1="96.06" y1="478.20" x2="96.06" y2="477.50" stroke="#333" stroke-width="1.0" />
<line x1="94.36" y1="477.50" x2="97.76" y2="477.50" stroke="#222" stroke-width="1.2" />
<line x1="101.24" y1="477.00" x2="101.24" y2="476.50" stroke="#333" stroke-width="1.0" />
<line x1="99.54" y1="476.50" x2="102.94" y2="476.50" stroke="#222" stroke-width="1.2" />
<line x1="106.42" y1="475.80" x2="106.42" y2="475.00" stroke="#333" stroke-width="1.0" />
<line x1="104.72" y1="475.00" x2="108.12" y2="475.00" stroke="#222" stroke-width="1.2" />
<line x1="111.60" y1="474.40" x2="111.60" y2="472.70" stroke="#333" stroke-width="1.0" />
<line x1="109.90" y1="472.70" x2="113.30" y2="472.70" stroke="#222" stroke-width="1.2" />
<line x1="116.78" y1="473.10" x2="116.78" y2="471.20" stroke="#333" stroke-width="1.0" />
<line x1="115.08" y1="471.20" x2="118.48" y2="471.20" stroke="#222" stroke-width="1.2" />
<line x1="121.96" y1="471.60" x2="121.96" y2="468.80" stroke="#333" stroke-width="1.0" />
<line x1="120.26" y1="468.80" x2="123.66" y2="468.80" stroke="#222" stroke-width="1.2" />
<line x1="127.14" y1="468.00" x2="127.14" y2="463.70" stroke="#333" stroke-width="1.0" />
<line x1="125.44" y1="463.70" x2="128.84" y2="463.70" stroke="#222" stroke-width="1.2" />
<line x1="132.32" y1="465.00" x2="132.32" y2="459.40" stroke="#333" stroke-width="1.0" />
<line x1="130.62" y1="459.40" x2="134.02" y2="459.40" stroke="#222" stroke-width="1.2" />
<line x1="137.50" y1="462.30" x2="137.50" y2="456.90" stroke="#333" stroke-width="1.0" />
<line x1="135.80" y1="456.90" x2="139.20" y2="456.90" stroke="#222" stroke-width="1.2" />
<line x1="142.68" y1="456.90" x2="142.68" y2="452.70" stroke="#333" stroke-width="1.0" />
<line x1="140.98" y1="452.70" x2="144.38" y2="452.70" stroke="#222" stroke-width="1.2" />
<line x1="147.86" y1="458.50" x2="147.86" y2="456.00" stroke="#333" stroke-width="1.0" />
<line x1="146.16" y1="456.00" x2="149.56" y2="456.00" stroke="#222" stroke-width="1.2" />
<line x1="153.04" y1="460.40" x2="153.04" y2="456.90" stroke="#333" stroke-width="1.0" />
<line x1="151.34" y1="456.90" x2="154.74" y2="456.90" stroke="#222" stroke-width="1.2" />
<line x1="158.22" y1="463.10" x2="158.22" y2="459.20" stroke="#333" stroke-width="1.0" />
<line x1="156.52" y1="459.20" x2="159.92" y2="459.20" stroke="#222" stroke-width="1.2" />
<line x1="163.40" y1="466.90" x2="163.40" y2="460.80" stroke="#333" stroke-width="1.0" />
<line x1="161.70" y1="460.80" x2="165.10" y2="460.80" stroke="#222" stroke-width="1.2" />
<line x1="168.58" y1="470.40" x2="168.58" y2="464.60" stroke="#333" stroke-width="1.0" />
<line x1="166.88" y1="464.60" x2="170.28" y2="464.60" stroke="#222" stroke-width="1.2" />
<line x1="173.76" y1="473.80" x2="173.76" y2="467.90" stroke="#333" stroke-width="1.0" />
<line x1="172.06" y1="467.90" x2="175.46" y2="467.90" stroke="#222" stroke-width="1.2" />
<line x1="178.94" y1="476.70" x2="178.94" y2="473.80" stroke="#333" stroke-width="1.0" />
<line x1="177.24" y1="473.80" x2="180.64" y2="473.80" stroke="#222" stroke-width="1.2" />
<line x1="184.12" y1="478.50" x2="184.12" y2="476.20" stroke="#333" stroke-width="1.0" />
<line x1="182.42" y1="476.20" x2="185.82" y2="476.20" stroke="#222" stroke-width="1.2" />
<path d="M33.90,480.30 L39.08,480.30 L44.26,480.30 L49.44,480.30 L54.62,480.30 L59.80,480.30 L64.98,480.30 L70.16,480.30 L75.34,480.30 L80.52,479.90 L85.70,479.60 L90.88,479.20 L96.06,478.20 L101.24,477.00 L106.42,475.80 L111.60,474.40 L116.78,473.10 L121.96,471.60 L127.14,468.00 L132.32,465.00 L137.50,462.30 L142.68,456.90 L147.86,458.50 L153.04,460.40 L158.22,463.10 L163.40,466.90 L168.58,470.40 L173.76,473.80 L178.94,476.70 L184.12,478.50" fill="none" stroke="#c0102e" stroke-width="1.6" stroke-linejoin="round"/>
<line x1="31.50" y1="392.50" x2="31.50" y2="480.40" stroke="#1a1a1a" stroke-width="1.35" />
<line x1="28.50" y1="480.40" x2="31.50" y2="480.40" stroke="#1a1a1a" stroke-width="1.35" />
<text transform="translate(25.50,483.10)" font-size="7.5" text-anchor="end" font-weight="normal" fill="#1a1a1a" >0</text>
<line x1="28.50" y1="463.32" x2="31.50" y2="463.32" stroke="#1a1a1a" stroke-width="1.35" />
<text transform="translate(25.50,466.02)" font-size="7.5" text-anchor="end" font-weight="normal" fill="#1a1a1a" >1</text>
<line x1="28.50" y1="446.24" x2="31.50" y2="446.24" stroke="#1a1a1a" stroke-width="1.35" />
<text transform="translate(25.50,448.94)" font-size="7.5" text-anchor="end" font-weight="normal" fill="#1a1a1a" >2</text>
<line x1="28.50" y1="429.16" x2="31.50" y2="429.16" stroke="#1a1a1a" stroke-width="1.35" />
<text transform="translate(25.50,431.86)" font-size="7.5" text-anchor="end" font-weight="normal" fill="#1a1a1a" >3</text>
<line x1="28.50" y1="412.08" x2="31.50" y2="412.08" stroke="#1a1a1a" stroke-width="1.35" />
<text transform="translate(25.50,414.78)" font-size="7.5" text-anchor="end" font-weight="normal" fill="#1a1a1a" >4</text>
<line x1="28.50" y1="395.00" x2="31.50" y2="395.00" stroke="#1a1a1a" stroke-width="1.35" />
<text transform="translate(25.50,397.70)" font-size="7.5" text-anchor="end" font-weight="normal" fill="#1a1a1a" >5</text>
<line x1="31.15" y1="480.50" x2="186.50" y2="480.50" stroke="#1a1a1a" stroke-width="1.35" />
<line x1="54.60" y1="480.50" x2="54.60" y2="483.50" stroke="#1a1a1a" stroke-width="1.35" />
<line x1="80.50" y1="480.50" x2="80.50" y2="483.50" stroke="#1a1a1a" stroke-width="1.35" />
<line x1="106.40" y1="480.50" x2="106.40" y2="483.50" stroke="#1a1a1a" stroke-width="1.35" />
<line x1="132.30" y1="480.50" x2="132.30" y2="483.50" stroke="#1a1a1a" stroke-width="1.35" />
<line x1="158.20" y1="480.50" x2="158.20" y2="483.50" stroke="#1a1a1a" stroke-width="1.35" />
<line x1="184.10" y1="480.50" x2="184.10" y2="483.50" stroke="#1a1a1a" stroke-width="1.35" />
<text transform="translate(57.60,491.50) rotate(-45)" font-size="8.3" text-anchor="end" font-weight="normal" fill="#1a1a1a" >1.375</text>
<text transform="translate(83.50,491.50) rotate(-45)" font-size="8.3" text-anchor="end" font-weight="normal" fill="#1a1a1a" >1.792</text>
<text transform="translate(109.40,491.50) rotate(-45)" font-size="8.3" text-anchor="end" font-weight="normal" fill="#1a1a1a" >2.208</text>
<text transform="translate(135.30,491.50) rotate(-45)" font-size="8.3" text-anchor="end" font-weight="normal" fill="#1a1a1a" >2.625</text>
<text transform="translate(161.20,491.50) rotate(-45)" font-size="8.3" text-anchor="end" font-weight="normal" fill="#1a1a1a" >3.042</text>
<text transform="translate(187.10,491.50) rotate(-45)" font-size="8.3" text-anchor="end" font-weight="normal" fill="#1a1a1a" >3.458</text>
<text transform="translate(109.60,518.80) scale(0.6974488628314244,1)" font-size="9.9" text-anchor="middle" font-weight="normal" fill="#1a1a1a" class="cd" >Deformability (ratio length/width)</text>
<text transform="translate(15.50,436.00) rotate(-90) scale(0.6902452527663736,1)" font-size="9.2" text-anchor="middle" font-weight="normal" fill="#1a1a1a" class="cd" >Frequency</text>
<line x1="56.00" y1="411.70" x2="67.30" y2="411.70" stroke="#c0102e" stroke-width="1.3" />
<rect x="53.80" y="418.00" width="16.20" height="8.50" fill="#8a90b8"/>
<text transform="translate(73.50,414.40)" font-size="7.6" text-anchor="start" font-weight="normal" fill="#1a1a1a" >Control RBC</text>
<text transform="translate(73.50,425.00)" font-size="7.6" text-anchor="start" font-weight="normal" fill="#1a1a1a" >Valinomycin</text>
<text transform="translate(204.25,379.50)" font-size="12" text-anchor="start" font-weight="bold" fill="#000" stroke="#000" stroke-width="0.9">H</text>
<line x1="235.50" y1="389.50" x2="235.50" y2="480.50" stroke="#1a1a1a" stroke-width="1.35" />
<line x1="232.50" y1="467.95" x2="235.50" y2="467.95" stroke="#1a1a1a" stroke-width="1.35" />
<text transform="translate(229.50,470.65)" font-size="7.5" text-anchor="end" font-weight="normal" fill="#1a1a1a" >0.6</text>
<line x1="232.50" y1="442.85" x2="235.50" y2="442.85" stroke="#1a1a1a" stroke-width="1.35" />
<text transform="translate(229.50,445.55)" font-size="7.5" text-anchor="end" font-weight="normal" fill="#1a1a1a" >0.8</text>
<line x1="232.50" y1="417.75" x2="235.50" y2="417.75" stroke="#1a1a1a" stroke-width="1.35" />
<text transform="translate(229.50,420.45)" font-size="7.5" text-anchor="end" font-weight="normal" fill="#1a1a1a" >1.0</text>
<line x1="232.50" y1="392.65" x2="235.50" y2="392.65" stroke="#1a1a1a" stroke-width="1.35" />
<text transform="translate(229.50,395.35)" font-size="7.5" text-anchor="end" font-weight="normal" fill="#1a1a1a" >1.2</text>
<rect x="247.90" y="417.75" width="17.40" height="62.75" fill="#a3002b"/>
<rect x="273.90" y="464.19" width="17.40" height="16.31" fill="#a3002b"/>
<line x1="282.60" y1="464.19" x2="282.60" y2="460.42" stroke="#333" stroke-width="1.0" />
<line x1="278.35" y1="460.42" x2="286.85" y2="460.42" stroke="#333" stroke-width="1.2" />
<rect x="300.30" y="434.06" width="17.40" height="46.44" fill="#a3002b"/>
<line x1="309.00" y1="434.06" x2="309.00" y2="426.53" stroke="#333" stroke-width="1.0" />
<line x1="304.75" y1="426.53" x2="313.25" y2="426.53" stroke="#333" stroke-width="1.2" />
<line x1="235.10" y1="480.50" x2="330.50" y2="480.50" stroke="#1a1a1a" stroke-width="1.35" />
<line x1="256.70" y1="480.50" x2="256.70" y2="483.50" stroke="#1a1a1a" stroke-width="1.35" />
<line x1="284.00" y1="480.50" x2="284.00" y2="483.50" stroke="#1a1a1a" stroke-width="1.35" />
<line x1="308.60" y1="480.50" x2="308.60" y2="483.50" stroke="#1a1a1a" stroke-width="1.35" />
<line x1="257.20" y1="409.50" x2="282.60" y2="409.50" stroke="#333" stroke-width="1.2" />
<line x1="257.20" y1="406.90" x2="257.20" y2="412.10" stroke="#333" stroke-width="1.2" />
<line x1="282.60" y1="406.90" x2="282.60" y2="412.10" stroke="#333" stroke-width="1.2" />
<circle cx="265.55" cy="407.00" r="1.05" fill="#222"/>
<circle cx="268.45" cy="407.00" r="1.05" fill="#222"/>
<circle cx="271.35" cy="407.00" r="1.05" fill="#222"/>
<circle cx="274.25" cy="407.00" r="1.05" fill="#222"/>
<line x1="257.20" y1="398.50" x2="308.50" y2="398.50" stroke="#333" stroke-width="1.2" />
<line x1="257.20" y1="395.90" x2="257.20" y2="401.10" stroke="#333" stroke-width="1.2" />
<line x1="308.50" y1="395.90" x2="308.50" y2="401.10" stroke="#333" stroke-width="1.2" />
<circle cx="281.00" cy="396.00" r="1.05" fill="#222"/>
<text transform="translate(211.80,435.20) rotate(-90) scale(0.756070848145204,1)" font-size="9.2" text-anchor="middle" font-weight="normal" fill="#1a1a1a" class="cd" >α-2,3 SIA MA MFI (norm.)</text>
<text transform="translate(259.70,492.00) rotate(-45)" font-size="8.3" text-anchor="end" font-weight="normal" fill="#1a1a1a" >Control</text>
<text transform="translate(287.00,492.00) rotate(-45)" font-size="8.3" text-anchor="end" font-weight="normal" fill="#1a1a1a" >Old RBC</text>
<text transform="translate(311.60,492.00) rotate(-45)" font-size="7.6" text-anchor="end" font-weight="normal" fill="#1a1a1a" >Valinomycin</text>
<text transform="translate(345.00,379.50)" font-size="12" text-anchor="start" font-weight="bold" fill="#000" stroke="#000" stroke-width="0.9">I</text>
<rect x="382.00" y="388.00" width="58.50" height="92.00" fill="#9b84a8"/>
<rect x="440.50" y="388.00" width="57.00" height="92.00" fill="#f1c990"/>
<rect x="390.50" y="465.75" width="17.50" height="14.25" fill="#a3002b"/>
<rect x="417.50" y="433.00" width="17.50" height="47.00" fill="#a3002b"/>
<line x1="426.25" y1="433.00" x2="426.25" y2="418.75" stroke="#a3002b" stroke-width="1.0" />
<line x1="422.50" y1="418.75" x2="430.00" y2="418.75" stroke="#a3002b" stroke-width="1.2" />
<rect x="444.50" y="465.75" width="17.50" height="14.25" fill="#2d4a7f"/>
<rect x="471.25" y="433.75" width="17.50" height="46.25" fill="#2d4a7f"/>
<line x1="480.00" y1="433.75" x2="480.00" y2="417.50" stroke="#2d4a7f" stroke-width="1.0" />
<line x1="476.25" y1="417.50" x2="483.75" y2="417.50" stroke="#2d4a7f" stroke-width="1.2" />
<line x1="382.50" y1="385.50" x2="382.50" y2="480.00" stroke="#1a1a1a" stroke-width="1.35" />
<line x1="379.50" y1="480.00" x2="382.50" y2="480.00" stroke="#1a1a1a" stroke-width="1.35" />
<text transform="translate(376.50,482.70)" font-size="7.5" text-anchor="end" font-weight="normal" fill="#1a1a1a" >0</text>
<line x1="379.50" y1="449.60" x2="382.50" y2="449.60" stroke="#1a1a1a" stroke-width="1.35" />
<text transform="translate(376.50,452.30)" font-size="7.5" text-anchor="end" font-weight="normal" fill="#1a1a1a" >2</text>
<line x1="379.50" y1="419.20" x2="382.50" y2="419.20" stroke="#1a1a1a" stroke-width="1.35" />
<text transform="translate(376.50,421.90)" font-size="7.5" text-anchor="end" font-weight="normal" fill="#1a1a1a" >4</text>
<line x1="379.50" y1="388.80" x2="382.50" y2="388.80" stroke="#1a1a1a" stroke-width="1.35" />
<text transform="translate(376.50,391.50)" font-size="7.5" text-anchor="end" font-weight="normal" fill="#1a1a1a" >6</text>
<line x1="497.50" y1="385.50" x2="497.50" y2="480.00" stroke="#1a1a1a" stroke-width="1.35" />
<line x1="497.50" y1="480.00" x2="500.50" y2="480.00" stroke="#1a1a1a" stroke-width="1.35" />
<text transform="translate(503.50,482.52)" font-size="7" text-anchor="start" font-weight="normal" fill="#1a1a1a" >0</text>
<line x1="497.50" y1="442.10" x2="500.50" y2="442.10" stroke="#1a1a1a" stroke-width="1.35" />
<text transform="translate(503.50,444.62)" font-size="7" text-anchor="start" font-weight="normal" fill="#1a1a1a" >5</text>
<line x1="497.50" y1="404.20" x2="500.50" y2="404.20" stroke="#1a1a1a" stroke-width="1.35" />
<text transform="translate(503.50,406.72)" font-size="7" text-anchor="start" font-weight="normal" fill="#1a1a1a" >10</text>
<line x1="382.00" y1="480.50" x2="497.50" y2="480.50" stroke="#1a1a1a" stroke-width="1.35" />
<line x1="399.25" y1="480.50" x2="399.25" y2="483.50" stroke="#1a1a1a" stroke-width="1.35" />
<line x1="426.25" y1="480.50" x2="426.25" y2="483.50" stroke="#1a1a1a" stroke-width="1.35" />
<line x1="453.25" y1="480.50" x2="453.25" y2="483.50" stroke="#1a1a1a" stroke-width="1.35" />
<line x1="480.00" y1="480.50" x2="480.00" y2="483.50" stroke="#1a1a1a" stroke-width="1.35" />
<line x1="399.50" y1="411.50" x2="426.25" y2="411.50" stroke="#333" stroke-width="1.2" />
<line x1="399.50" y1="408.90" x2="399.50" y2="414.10" stroke="#333" stroke-width="1.2" />
<line x1="426.25" y1="408.90" x2="426.25" y2="414.10" stroke="#333" stroke-width="1.2" />
<circle cx="412.88" cy="409.00" r="1.05" fill="#222"/>
<line x1="453.00" y1="410.50" x2="482.50" y2="410.50" stroke="#333" stroke-width="1.2" />
<line x1="453.00" y1="407.90" x2="453.00" y2="413.10" stroke="#333" stroke-width="1.2" />
<line x1="482.50" y1="407.90" x2="482.50" y2="413.10" stroke="#333" stroke-width="1.2" />
<circle cx="467.75" cy="408.00" r="1.05" fill="#222"/>
<text transform="translate(411.00,397.50)" font-size="7.2" text-anchor="middle" font-weight="normal" fill="#1a1a1a" >Laminin-α5</text>
<text transform="translate(468.00,396.80)" font-size="7.2" text-anchor="middle" font-weight="normal" fill="#1a1a1a" >Hyaluronic acid</text>
<text transform="translate(354.50,433.00) rotate(-90) scale(0.7286730540855269,1)" font-size="9.2" text-anchor="middle" font-weight="normal" fill="#1a1a1a" class="cd" >Adhesion/rolling frequency</text>
<text transform="translate(364.50,433.00) rotate(-90) scale(0.707701727001731,1)" font-size="9.2" text-anchor="middle" font-weight="normal" fill="#1a1a1a" class="cd" >(fold change)</text>
<text transform="translate(402.25,492.00) rotate(-45)" font-size="7.8" text-anchor="end" font-weight="normal" fill="#1a1a1a" >Control</text>
<text transform="translate(429.25,492.00) rotate(-45)" font-size="7.4" text-anchor="end" font-weight="normal" fill="#1a1a1a" >Valinomycin</text>
<text transform="translate(456.25,492.00) rotate(-45)" font-size="7.8" text-anchor="end" font-weight="normal" fill="#1a1a1a" >Control</text>
<text transform="translate(483.00,492.00) rotate(-45)" font-size="7.4" text-anchor="end" font-weight="normal" fill="#1a1a1a" >Valinomycin</text>
<text transform="translate(6.90,540.50)" font-size="12" text-anchor="start" font-weight="bold" fill="#000" stroke="#000" stroke-width="0.9">J</text>
<line x1="37.50" y1="549.70" x2="37.50" y2="646.50" stroke="#1a1a1a" stroke-width="1.35" />
<line x1="34.50" y1="632.95" x2="37.50" y2="632.95" stroke="#1a1a1a" stroke-width="1.35" />
<text transform="translate(31.50,635.65)" font-size="7.5" text-anchor="end" font-weight="normal" fill="#1a1a1a" >0.6</text>
<line x1="34.50" y1="605.85" x2="37.50" y2="605.85" stroke="#1a1a1a" stroke-width="1.35" />
<text transform="translate(31.50,608.55)" font-size="7.5" text-anchor="end" font-weight="normal" fill="#1a1a1a" >0.8</text>
<line x1="34.50" y1="578.75" x2="37.50" y2="578.75" stroke="#1a1a1a" stroke-width="1.35" />
<text transform="translate(31.50,581.45)" font-size="7.5" text-anchor="end" font-weight="normal" fill="#1a1a1a" >1.0</text>
<line x1="34.50" y1="551.65" x2="37.50" y2="551.65" stroke="#1a1a1a" stroke-width="1.35" />
<text transform="translate(31.50,554.35)" font-size="7.5" text-anchor="end" font-weight="normal" fill="#1a1a1a" >1.2</text>
<rect x="48.30" y="578.75" width="14.60" height="67.75" fill="#a3002b"/>
<rect x="70.20" y="628.88" width="14.60" height="17.62" fill="#a3002b"/>
<line x1="77.50" y1="628.88" x2="77.50" y2="624.82" stroke="#333" stroke-width="1.0" />
<line x1="74.00" y1="624.82" x2="81.00" y2="624.82" stroke="#333" stroke-width="1.2" />
<rect x="92.10" y="595.01" width="14.60" height="51.49" fill="#a3002b"/>
<line x1="99.40" y1="595.01" x2="99.40" y2="591.62" stroke="#333" stroke-width="1.0" />
<line x1="95.90" y1="591.62" x2="102.90" y2="591.62" stroke="#333" stroke-width="1.2" />
<rect x="113.70" y="596.23" width="14.60" height="50.27" fill="#a3002b"/>
<line x1="121.00" y1="596.23" x2="121.00" y2="588.78" stroke="#333" stroke-width="1.0" />
<line x1="117.50" y1="588.78" x2="124.50" y2="588.78" stroke="#333" stroke-width="1.2" />
<line x1="37.80" y1="646.50" x2="140.00" y2="646.50" stroke="#1a1a1a" stroke-width="1.35" />
<line x1="55.60" y1="646.50" x2="55.60" y2="649.50" stroke="#1a1a1a" stroke-width="1.35" />
<line x1="77.50" y1="646.50" x2="77.50" y2="649.50" stroke="#1a1a1a" stroke-width="1.35" />
<line x1="99.40" y1="646.50" x2="99.40" y2="649.50" stroke="#1a1a1a" stroke-width="1.35" />
<line x1="121.00" y1="646.50" x2="121.00" y2="649.50" stroke="#1a1a1a" stroke-width="1.35" />
<line x1="56.25" y1="571.50" x2="77.50" y2="571.50" stroke="#333" stroke-width="1.2" />
<line x1="56.25" y1="568.90" x2="56.25" y2="574.10" stroke="#333" stroke-width="1.2" />
<line x1="77.50" y1="568.90" x2="77.50" y2="574.10" stroke="#333" stroke-width="1.2" />
<circle cx="62.52" cy="569.00" r="1.05" fill="#222"/>
<circle cx="65.42" cy="569.00" r="1.05" fill="#222"/>
<circle cx="68.33" cy="569.00" r="1.05" fill="#222"/>
<circle cx="71.22" cy="569.00" r="1.05" fill="#222"/>
<line x1="56.25" y1="561.50" x2="98.75" y2="561.50" stroke="#333" stroke-width="1.2" />
<line x1="56.25" y1="558.90" x2="56.25" y2="564.10" stroke="#333" stroke-width="1.2" />
<line x1="98.75" y1="558.90" x2="98.75" y2="564.10" stroke="#333" stroke-width="1.2" />
<text transform="translate(77.50,559.80)" font-size="6.8" text-anchor="middle" font-weight="normal" fill="#333" >ns</text>
<line x1="56.25" y1="552.50" x2="119.25" y2="552.50" stroke="#333" stroke-width="1.2" />
<line x1="56.25" y1="549.90" x2="56.25" y2="555.10" stroke="#333" stroke-width="1.2" />
<line x1="119.25" y1="549.90" x2="119.25" y2="555.10" stroke="#333" stroke-width="1.2" />
<circle cx="87.75" cy="550.00" r="1.05" fill="#222"/>
<text transform="translate(16.50,597.60) rotate(-90) scale(0.7656413652103332,1)" font-size="9.2" text-anchor="middle" font-weight="normal" fill="#1a1a1a" class="cd" >α-2,3 SIA MA MFI (norm.)</text>
<text transform="translate(57.90,656.00) rotate(-45)" font-size="8.3" text-anchor="end" font-weight="normal" fill="#1a1a1a" >Control</text>
<text transform="translate(79.80,656.00) rotate(-45)" font-size="8.3" text-anchor="end" font-weight="normal" fill="#1a1a1a" >Old RBC</text>
<text transform="translate(101.70,656.00) rotate(-45)" font-size="8.3" text-anchor="end" font-weight="normal" fill="#1a1a1a" >Stored RBC</text>
<text transform="translate(123.30,656.00) rotate(-45)" font-size="7.6" text-anchor="end" font-weight="normal" fill="#1a1a1a" >Valinomycin</text>
<text transform="translate(155.50,541.20)" font-size="12" text-anchor="start" font-weight="bold" fill="#000" stroke="#000" stroke-width="0.9">K</text>
<line x1="205.50" y1="552.50" x2="205.50" y2="646.25" stroke="#1a1a1a" stroke-width="1.35" />
<line x1="202.50" y1="646.25" x2="205.50" y2="646.25" stroke="#1a1a1a" stroke-width="1.35" />
<text transform="translate(199.50,649.20)" font-size="8.2" text-anchor="end" font-weight="normal" fill="#1a1a1a" >0</text>
<line x1="202.50" y1="628.00" x2="205.50" y2="628.00" stroke="#1a1a1a" stroke-width="1.35" />
<text transform="translate(199.50,630.95)" font-size="8.2" text-anchor="end" font-weight="normal" fill="#1a1a1a" >500</text>
<line x1="202.50" y1="609.75" x2="205.50" y2="609.75" stroke="#1a1a1a" stroke-width="1.35" />
<text transform="translate(199.50,612.70)" font-size="8.2" text-anchor="end" font-weight="normal" fill="#1a1a1a" >1000</text>
<line x1="202.50" y1="591.50" x2="205.50" y2="591.50" stroke="#1a1a1a" stroke-width="1.35" />
<text transform="translate(199.50,594.45)" font-size="8.2" text-anchor="end" font-weight="normal" fill="#1a1a1a" >1500</text>
<line x1="202.50" y1="573.25" x2="205.50" y2="573.25" stroke="#1a1a1a" stroke-width="1.35" />
<text transform="translate(199.50,576.20)" font-size="8.2" text-anchor="end" font-weight="normal" fill="#1a1a1a" >2000</text>
<line x1="202.50" y1="555.00" x2="205.50" y2="555.00" stroke="#1a1a1a" stroke-width="1.35" />
<text transform="translate(199.50,557.95)" font-size="8.2" text-anchor="end" font-weight="normal" fill="#1a1a1a" >2500</text>
<line x1="308.50" y1="552.50" x2="308.50" y2="646.25" stroke="#1a1a1a" stroke-width="1.35" />
<line x1="308.50" y1="646.25" x2="311.50" y2="646.25" stroke="#1a1a1a" stroke-width="1.35" />
<text transform="translate(314.50,649.20)" font-size="8.2" text-anchor="start" font-weight="normal" fill="#1a1a1a" >0</text>
<line x1="308.50" y1="615.75" x2="311.50" y2="615.75" stroke="#1a1a1a" stroke-width="1.35" />
<text transform="translate(314.50,618.70)" font-size="8.2" text-anchor="start" font-weight="normal" fill="#1a1a1a" >200</text>
<line x1="308.50" y1="585.25" x2="311.50" y2="585.25" stroke="#1a1a1a" stroke-width="1.35" />
<text transform="translate(314.50,588.20)" font-size="8.2" text-anchor="start" font-weight="normal" fill="#1a1a1a" >400</text>
<line x1="308.50" y1="554.75" x2="311.50" y2="554.75" stroke="#1a1a1a" stroke-width="1.35" />
<text transform="translate(314.50,557.70)" font-size="8.2" text-anchor="start" font-weight="normal" fill="#1a1a1a" >600</text>
<line x1="205.00" y1="646.50" x2="308.75" y2="646.50" stroke="#1a1a1a" stroke-width="1.35" />
<line x1="215.00" y1="646.25" x2="215.00" y2="649.25" stroke="#1a1a1a" stroke-width="1.2" />
<text transform="translate(215.00,659.20)" font-size="8.2" text-anchor="middle" font-weight="normal" fill="#1a1a1a" >0</text>
<line x1="235.50" y1="646.25" x2="235.50" y2="649.25" stroke="#1a1a1a" stroke-width="1.2" />
<text transform="translate(235.50,659.20)" font-size="8.2" text-anchor="middle" font-weight="normal" fill="#1a1a1a" >1</text>
<line x1="256.25" y1="646.25" x2="256.25" y2="649.25" stroke="#1a1a1a" stroke-width="1.2" />
<text transform="translate(256.25,659.20)" font-size="8.2" text-anchor="middle" font-weight="normal" fill="#1a1a1a" >2</text>
<line x1="277.00" y1="646.25" x2="277.00" y2="649.25" stroke="#1a1a1a" stroke-width="1.2" />
<text transform="translate(277.00,659.20)" font-size="8.2" text-anchor="middle" font-weight="normal" fill="#1a1a1a" >3</text>
<line x1="297.50" y1="646.25" x2="297.50" y2="649.25" stroke="#1a1a1a" stroke-width="1.2" />
<text transform="translate(297.50,659.20)" font-size="8.2" text-anchor="middle" font-weight="normal" fill="#1a1a1a" >4</text>
<path d="M215.00,628.00 L235.50,618.75 L256.25,613.00 L277.00,607.00 L297.50,604.50" fill="none" stroke="#e39b25" stroke-width="1.2" />
<line x1="215.00" y1="624.25" x2="215.00" y2="631.25" stroke="#e39b25" stroke-width="0.9" />
<line x1="213.20" y1="624.25" x2="216.80" y2="624.25" stroke="#e39b25" stroke-width="0.9" />
<line x1="213.20" y1="631.25" x2="216.80" y2="631.25" stroke="#e39b25" stroke-width="0.9" />
<circle cx="215" cy="628" r="2" fill="#e39b25"/>
<line x1="235.50" y1="613.50" x2="235.50" y2="623.75" stroke="#e39b25" stroke-width="0.9" />
<line x1="233.70" y1="613.50" x2="237.30" y2="613.50" stroke="#e39b25" stroke-width="0.9" />
<line x1="233.70" y1="623.75" x2="237.30" y2="623.75" stroke="#e39b25" stroke-width="0.9" />
<circle cx="235.5" cy="618.75" r="2" fill="#e39b25"/>
<circle cx="256.25" cy="613" r="2" fill="#e39b25"/>
<line x1="277.00" y1="601.25" x2="277.00" y2="613.75" stroke="#e39b25" stroke-width="0.9" />
<line x1="275.20" y1="601.25" x2="278.80" y2="601.25" stroke="#e39b25" stroke-width="0.9" />
<line x1="275.20" y1="613.75" x2="278.80" y2="613.75" stroke="#e39b25" stroke-width="0.9" />
<circle cx="277" cy="607" r="2" fill="#e39b25"/>
<line x1="297.50" y1="600.50" x2="297.50" y2="609.50" stroke="#e39b25" stroke-width="0.9" />
<line x1="295.70" y1="600.50" x2="299.30" y2="600.50" stroke="#e39b25" stroke-width="0.9" />
<line x1="295.70" y1="609.50" x2="299.30" y2="609.50" stroke="#e39b25" stroke-width="0.9" />
<circle cx="297.5" cy="604.5" r="2" fill="#e39b25"/>
<path d="M215.00,643.00 L235.50,612.50 L256.25,595.00 L277.00,585.50" fill="none" stroke="#50247a" stroke-width="1.2" />
<circle cx="215" cy="643" r="2" fill="#50247a"/>
<line x1="235.50" y1="601.25" x2="235.50" y2="623.75" stroke="#50247a" stroke-width="0.9" />
<line x1="233.70" y1="601.25" x2="237.30" y2="601.25" stroke="#50247a" stroke-width="0.9" />
<line x1="233.70" y1="623.75" x2="237.30" y2="623.75" stroke="#50247a" stroke-width="0.9" />
<circle cx="235.5" cy="612.5" r="2" fill="#50247a"/>
<line x1="256.25" y1="581.25" x2="256.25" y2="608.00" stroke="#50247a" stroke-width="0.9" />
<line x1="254.45" y1="581.25" x2="258.05" y2="581.25" stroke="#50247a" stroke-width="0.9" />
<line x1="254.45" y1="608.00" x2="258.05" y2="608.00" stroke="#50247a" stroke-width="0.9" />
<circle cx="256.25" cy="595" r="2" fill="#50247a"/>
<line x1="277.00" y1="567.00" x2="277.00" y2="603.75" stroke="#50247a" stroke-width="0.9" />
<line x1="275.20" y1="567.00" x2="278.80" y2="567.00" stroke="#50247a" stroke-width="0.9" />
<line x1="275.20" y1="603.75" x2="278.80" y2="603.75" stroke="#50247a" stroke-width="0.9" />
<circle cx="277" cy="585.5" r="2" fill="#50247a"/>
<circle cx="277" cy="563.6" r="1.05" fill="#222"/>
<circle cx="296" cy="596.2" r="1.05" fill="#222"/>
<circle cx="298.9" cy="596.2" r="1.05" fill="#222"/>
<line x1="210.00" y1="560.00" x2="221.25" y2="560.00" stroke="#50247a" stroke-width="1.2" />
<circle cx="215.5" cy="560" r="2" fill="#50247a"/>
<line x1="210.00" y1="572.00" x2="221.25" y2="572.00" stroke="#e39b25" stroke-width="1.2" />
<circle cx="215.5" cy="572" r="2" fill="#e39b25"/>
<text transform="translate(225.50,562.60)" font-size="7.2" text-anchor="start" font-weight="normal" fill="#1a1a1a" >Laminin-a5</text>
<text transform="translate(225.50,574.60)" font-size="7.2" text-anchor="start" font-weight="normal" fill="#1a1a1a" >Hyaluronic acid</text>
<text transform="translate(256.50,672.80) scale(0.6766401967786804,1)" font-size="9.9" text-anchor="middle" font-weight="normal" fill="#1a1a1a" class="cd" >Weeks of storage</text>
<text transform="translate(163.20,599.00) rotate(-90) scale(0.6941953414359455,1)" font-size="9.2" text-anchor="middle" font-weight="normal" fill="#1a1a1a" class="cd" >RBC adhesion frequency</text>
<text transform="translate(174.20,599.00) rotate(-90) scale(0.7594870614258895,1)" font-size="9.2" text-anchor="middle" font-weight="normal" fill="#1a1a1a" class="cd" >to laminin-a5</text>
<text transform="translate(343.60,599.00) rotate(90) scale(0.7219485346246824,1)" font-size="9.2" text-anchor="middle" font-weight="normal" fill="#1a1a1a" class="cd" >RBC rolling frequency</text>
<text transform="translate(332.20,598.50) rotate(90) scale(0.7417197108641709,1)" font-size="9.2" text-anchor="middle" font-weight="normal" fill="#1a1a1a" class="cd" >on hyaluronic acid</text>
<rect x="0.6" y="0.6" width="518.8" height="690.8" fill="none" stroke="#000" stroke-width="1.2"/>
</svg>
</body></html>
